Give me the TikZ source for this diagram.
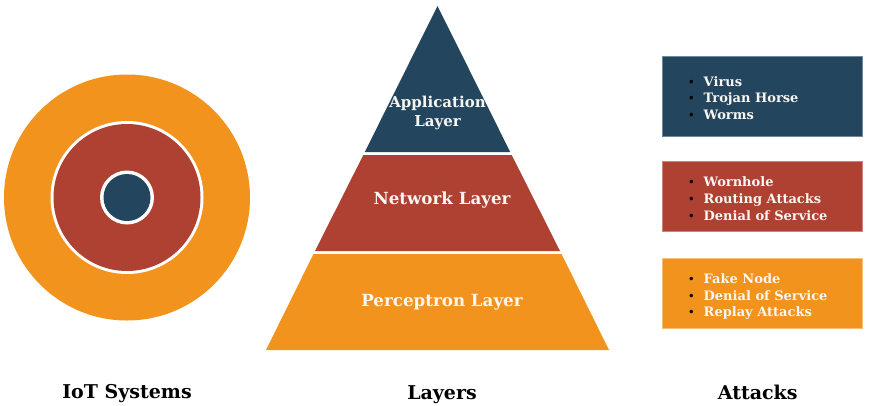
\documentclass[tikz,border=0pt]{standalone}
\usepackage{fontspec}
\setmainfont{DejaVu Serif}
\definecolor{cblue}{RGB}{35,69,93}
\definecolor{cred}{RGB}{174,65,50}
\definecolor{corange}{RGB}{242,147,30}
\definecolor{cblueb}{RGB}{110,135,155}
\definecolor{credb}{RGB}{205,130,125}
\definecolor{corangeb}{RGB}{248,190,120}
\definecolor{ctext}{RGB}{248,246,242}
\tikzset{
  lay/.style={text=ctext,font=\bfseries\fontsize{16.7}{19.5}\selectfont,align=center,inner sep=0pt},
  captxt/.style={text=black,font=\bfseries\fontsize{19}{22}\selectfont,anchor=base,inner sep=0pt},
  item/.style={text=ctext,font=\bfseries\fontsize{13}{16.5}\selectfont,anchor=base west,inner sep=0pt},
  bul/.style={text=black,font=\fontsize{12}{16}\selectfont,anchor=base,inner sep=0pt},
  abox/.style={line width=0.8pt}
}
\begin{document}
\begin{tikzpicture}[x=1pt,y=-1pt]
\useasboundingbox (0,0) rectangle (873,405);
% circles
\fill[corange] (127,197.5) circle (123);
\fill[white] (127,197.5) circle (76.5);
\fill[cred] (127,197.5) circle (73.5);
\fill[white] (127,197.5) circle (27);
\fill[cblue] (127,197.5) circle (23.5);
\node[captxt] (c1) at (127,398) {IoT Systems};
% pyramid
\coordinate (apex) at (437.5,6);
\fill[cblue] (apex) -- (364.8,152) -- (510.2,152) -- cycle;
\fill[cred] (363.3,155) -- (511.7,155) -- (560,251) -- (315,251) -- cycle;
\fill[corange] (313.5,254) -- (561.5,254) -- (609,350) -- (266,350) -- cycle;
\node[lay,font=\bfseries\fontsize{15}{19.5}\selectfont,anchor=base] (l1) at (437.5,107) {Application};
\node[lay,font=\bfseries\fontsize{15}{19.5}\selectfont,anchor=base] (l1b) at (437.5,126.5) {Layer};
\node[lay,anchor=base] (l2) at (442,204) {Network Layer};
\node[lay,anchor=base] (l3) at (442,306) {Perceptron Layer};
\node[captxt] (c2) at (442,399) {Layers};
% attack boxes
\draw[abox,fill=cblue,draw=cblueb] (662,56.5) rectangle (862.5,136);
\draw[abox,fill=cred,draw=credb] (662,161.5) rectangle (862.5,231.5);
\draw[abox,fill=corange,draw=corangeb] (662,258.5) rectangle (862.5,328);
\foreach \t/\y/\n in {Virus/86/a1,Trojan Horse/102.6/a2,Worms/119.2/a3,
  Wornhole/186.7/b1,Routing Attacks/203.3/b2,Denial of Service/220/b3,
  Fake Node/283.3/d1,Denial of Service/300/d2,Replay Attacks/316.6/d3}{
  \node[bul] (\n b) at (691.5,\y) {•};
  \node[item] (\n) at (703.5,\y) {\t};
}
\node[captxt] (c3) at (757.7,399) {Attacks};
\end{tikzpicture}
\end{document}
